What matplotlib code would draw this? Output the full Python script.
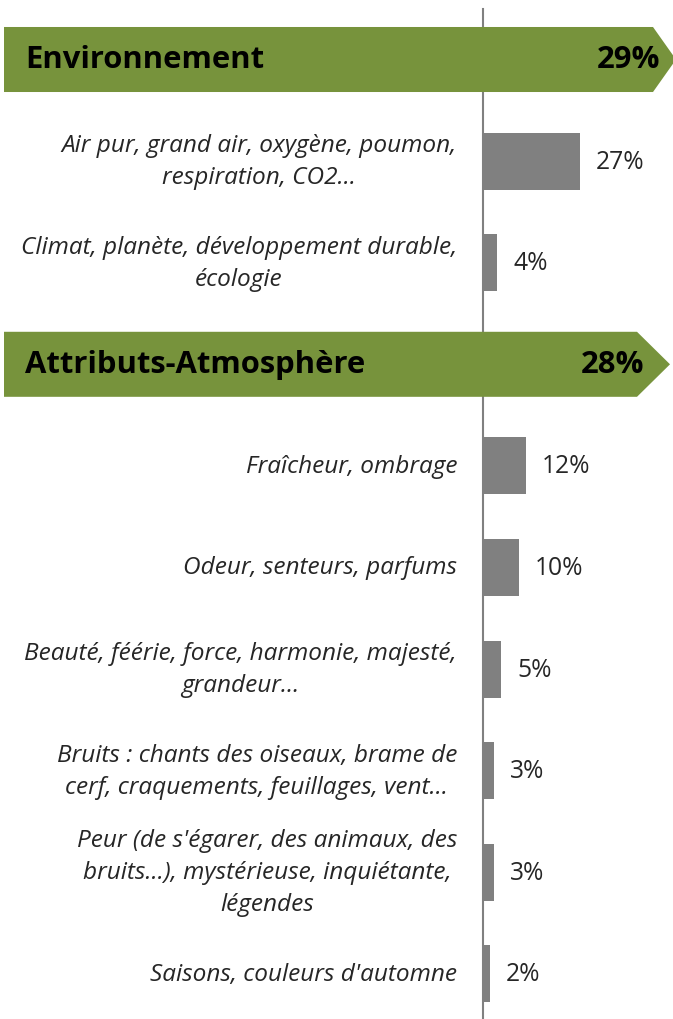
import numpy as np
import matplotlib.pyplot as plt
from matplotlib.patches import Polygon

# Rows, top to bottom. Headers are drawn as green arrow banners.
labels = [
    "Environnement",
    "Air pur, grand air, oxygène, poumon,\nrespiration, CO2...",
    "Climat, planète, développement durable,\nécologie",
    "Attributs-Atmosphère",
    "Fraîcheur, ombrage",
    "Odeur, senteurs, parfums",
    "Beauté, féérie, force, harmonie, majesté,\ngrandeur...",
    "Bruits : chants des oiseaux, brame de\ncerf, craquements, feuillages, vent...",
    "Peur (de s'égarer, des animaux, des\nbruits...), mystérieuse, inquiétante,\nlégendes",
    "Saisons, couleurs d'automne",
]
values = [29, 27, 4, 28, 12, 10, 5, 3, 3, 2]
is_header = [True, False, False, True, False, False, False, False, False, False]

GREEN = "#77933C"
GREY = "#808080"
TXT = "#262626"

W, H = 673, 1020
x0_px = 483.0       # pixel position of the zero line
px_per_pct = 3.6
row0_px = 60.5
row_px = 101.6

fig = plt.figure(figsize=(W / 100, H / 100), dpi=100)
ax = fig.add_axes([0, 0, 1, 1])
ax.set_xlim(-x0_px / px_per_pct, (W - x0_px) / px_per_pct)
ax.set_ylim((H - row0_px) / row_px, -row0_px / row_px)
ax.axis("off")

xmin, xmax = ax.get_xlim()
y = np.arange(len(labels))
pct = px_per_pct  # px per data unit in x
ypx = row_px      # px per data unit in y

# regular bars
for i, (lab, v, hd) in enumerate(zip(labels, values, is_header)):
    if hd:
        continue
    ax.barh(y[i], v, height=0.56, color=GREY, zorder=2)
    ax.text(v + 16 / pct, y[i], f"{v}%", ha="left", va="center",
            fontsize=17.7, color=TXT, family="Open Sans")
    ax.text(-26 / pct, y[i], lab, ha="right", va="center", fontsize=17.6,
            style="italic", color=TXT, family="Open Sans", linespacing=1.45,
            multialignment="center")

# zero line
ax.plot([0, 0], [-51 / ypx, ax.get_ylim()[0]], color=GREY, lw=1.5, zorder=1)

# header banners
tips = {0: (653, 676), 3: (637, 670)}
for i, (lab, v, hd) in enumerate(zip(labels, values, is_header)):
    if not hd:
        continue
    h = 0.32
    left = xmin + 4 / pct
    ps, pt = tips[i]
    ps = xmin + ps / pct
    pt = xmin + pt / pct
    poly = Polygon([[left, y[i] - h], [ps, y[i] - h], [pt, y[i]],
                    [ps, y[i] + h], [left, y[i] + h]],
                   closed=True, facecolor=GREEN, edgecolor="none", zorder=3)
    ax.add_patch(poly)
    ax.text(xmin + 25 / pct, y[i], lab, ha="left", va="center", fontsize=22.3,
            fontweight="bold", color="black", family="Open Sans", zorder=4)
    ax.text(ps + 7 / pct, y[i], f"{v}%", ha="right", va="center", fontsize=22.3,
            fontweight="bold", color="black", family="Open Sans", zorder=4)

fig.savefig("out.png", dpi=100)
